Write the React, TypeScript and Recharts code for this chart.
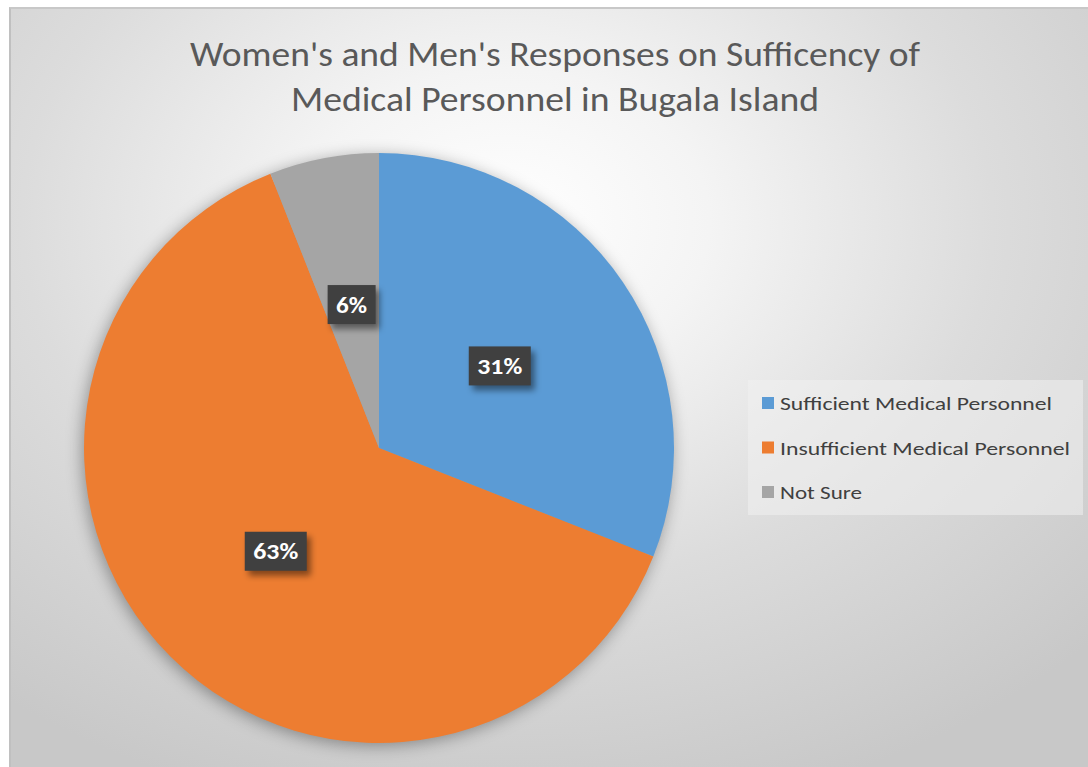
import { Cell, Legend, Pie, PieChart } from "recharts"

const categorias = ["Sufficient Medical Personnel", "Insufficient Medical Personnel", "Not Sure"]
const valores = [31, 63, 6]
const cores = ["#5b9bd5", "#ed7d31", "#a5a5a5"]
const tituloLinhas = ["Women's and Men's Responses on Sufficency of", "Medical Personnel in Bugala Island"]

const dados = categorias.map((nome, i) => ({ nome, valor: valores[i] }))

const RAD = Math.PI / 180
const fonte = "Calibri, 'Open Sans', 'Liberation Sans', sans-serif"

function Rotulo(props: any) {
  const { cx, cy, midAngle, outerRadius, value } = props
  const r = outerRadius * 0.495
  const x = cx + r * Math.cos(-midAngle * RAD)
  const y = cy + r * Math.sin(-midAngle * RAD)
  const txt = `${value}%`
  const w = txt.length > 2 ? 62 : 48
  const h = 39
  return (
    <g>
      <rect x={x - w / 2 + 4} y={y - h / 2 + 5} width={w} height={h} fill="rgba(0,0,0,0.45)" filter="url(#blurRot)" />
      <rect x={x - w / 2} y={y - h / 2} width={w} height={h} fill="#404040" />
      <text
        x={x}
        y={y + 8}
        textAnchor="middle"
        fill="#ffffff"
        fontFamily={fonte}
        fontWeight="bold"
        fontSize={23}
        textLength={txt.length > 2 ? 45 : 31}
        lengthAdjust="spacingAndGlyphs"
      >
        {txt}
      </text>
    </g>
  )
}

const larguraLegenda = [272, 290, 82]

function Legenda({ payload }: any) {
  // keep the original series order (recharts sorts the payload by name)
  const itens = [...(payload || [])].sort((a: any, b: any) => categorias.indexOf(a.value) - categorias.indexOf(b.value))
  return (
    <svg width={335} height={135} style={{ display: "block" }}>
      <rect x={0} y={0} width={335} height={135} fill="rgba(240,240,240,0.55)" />
      {itens.map((p: any, i: number) => (
        <g key={i}>
          <rect x={14} y={17 + i * 44.5} width={12} height={12} fill={p.color} />
          <text
            x={32}
            y={30 + i * 44.5}
            fontFamily={fonte}
            fontSize={19}
            fill="#404040"
            textLength={larguraLegenda[categorias.indexOf(p.value)]}
            lengthAdjust="spacingAndGlyphs"
          >
            {p.value}
          </text>
        </g>
      ))}
    </svg>
  )
}

export default function App() {
  return (
    <div>
      <style>{`body{margin:0;overflow:hidden} .pieSombra .recharts-pie{filter:drop-shadow(-2px 3px 8px rgba(0,0,0,0.35))}`}</style>
      <div
        className="pieSombra"
        style={{
          position: "absolute",
          left: 9,
          top: 7,
          width: 1079,
          height: 760,
          borderTop: "2px solid #c8c8c8",
          borderLeft: "2px solid #c0c0c0",
          background: "radial-gradient(ellipse 75% 80% at 46% 28%, #ffffff 0%, #f4f4f4 25%, #dcdcdc 60%, #c8c8c8 100%)",
        }}
      >
        <PieChart width={1077} height={758} margin={{ top: 0, right: 0, bottom: 0, left: 0 }}>
          <defs>
            <filter id="blurRot" x="-30%" y="-30%" width="160%" height="160%">
              <feGaussianBlur stdDeviation="3" />
            </filter>
          </defs>
          {tituloLinhas.map((l, i) => (
            <text
              key={i}
              x={544}
              y={57 + i * 45}
              textAnchor="middle"
              fontFamily={fonte}
              fontSize={34}
              fill="#595959"
              textLength={i === 0 ? 730 : 528}
              lengthAdjust="spacingAndGlyphs"
            >
              {l}
            </text>
          ))}
          <Pie
            data={dados}
            dataKey="valor"
            nameKey="nome"
            cx={368}
            cy={439}
            outerRadius={295}
            startAngle={90}
            endAngle={-270}
            stroke="none"
            label={Rotulo}
            labelLine={false}
            isAnimationActive={false}
          >
            {dados.map((_, i) => (
              <Cell key={i} fill={cores[i]} />
            ))}
          </Pie>
          <Legend
            layout="vertical"
            content={<Legenda />}
            wrapperStyle={{ position: "absolute", left: 737, top: 371, width: 335, height: 135 }}
          />
        </PieChart>
      </div>
    </div>
  )
}
